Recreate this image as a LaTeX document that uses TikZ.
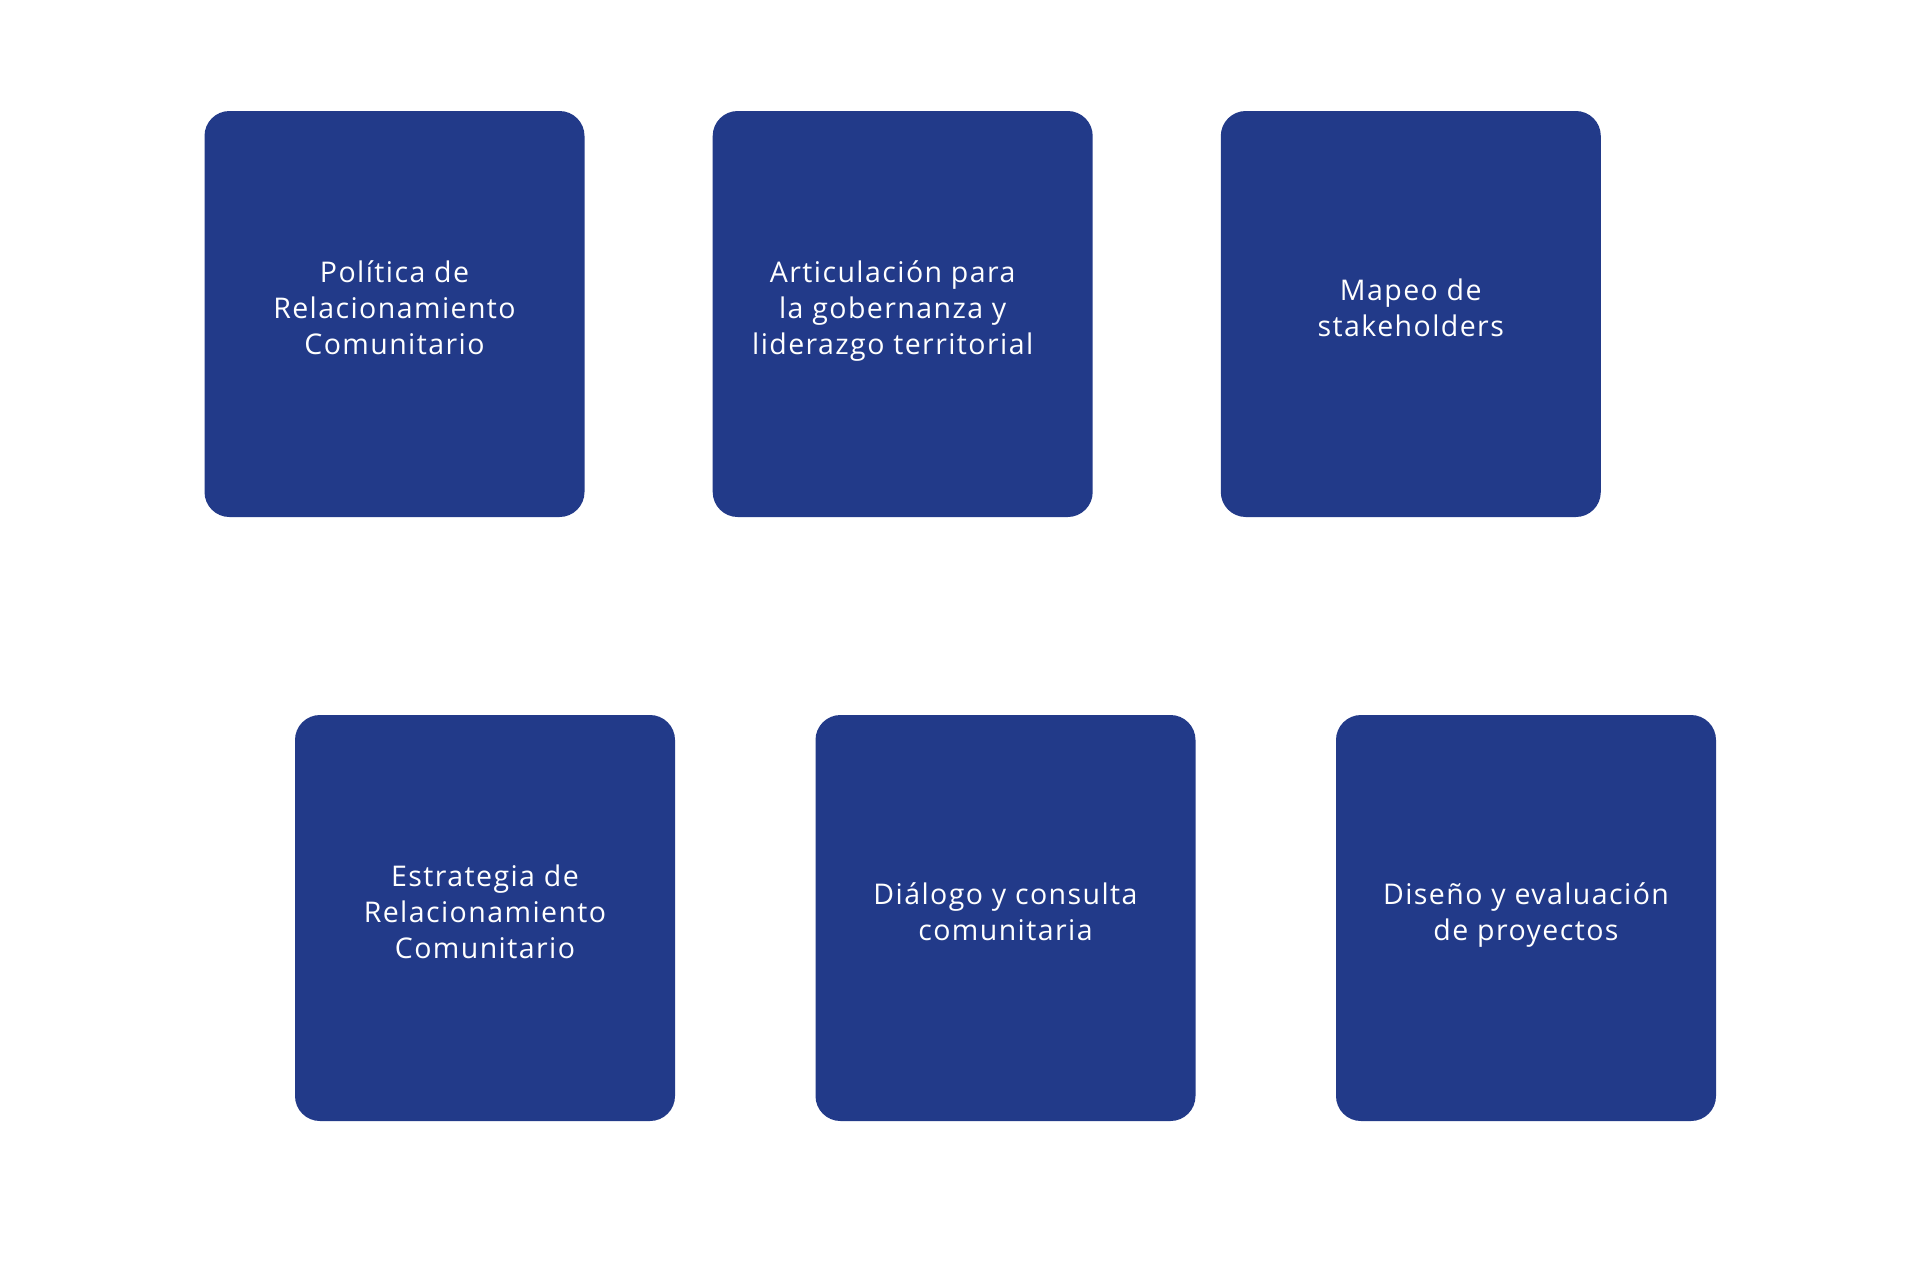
\documentclass[tikz,border=0pt]{standalone}
\usepackage{fontspec}
\setmainfont{Open Sans}[LetterSpace=5]
\definecolor{boxblue}{RGB}{34,58,137}
\begin{document}
\begin{tikzpicture}[x=1pt,y=-1pt,
  cardbox/.style={draw=none,fill=boxblue,rounded corners=25pt,minimum width=380pt,minimum height=406pt,inner sep=0pt},
  cardtext/.style={text=white,align=center,font=\fontsize{28.5}{36}\selectfont,inner sep=0pt,text height=30pt,text depth=8pt}]
\useasboundingbox[fill=white] (0,0) rectangle (1920,1269);
\node[cardbox] (b1) at (394.5,314) {};
\node[cardbox] (b2) at (902.7,314) {};
\node[cardbox] (b3) at (1410.8,314) {};
\node[cardbox] (b4) at (485,918) {};
\node[cardbox] (b5) at (1005.5,918) {};
\node[cardbox] (b6) at (1526,918) {};
\node[cardtext] (t1) at ([yshift=-29.5pt]b1.center) {Política de\\Relacionamiento\\Comunitario};
\node[cardtext] (t2) at ([xshift=-10pt,yshift=-29.5pt]b2.center) {Articulación para\\la gobernanza y\\liderazgo territorial};
\node[cardtext] (t3) at ([yshift=-11pt]b3.center) {Mapeo de\\stakeholders};
\node[cardtext] (t4) at ([yshift=-29.5pt]b4.center) {Estrategia de\\Relacionamiento\\Comunitario};
\node[cardtext] (t5) at ([yshift=-11pt]b5.center) {Diálogo y consulta\\comunitaria};
\node[cardtext] (t6) at ([yshift=-11pt]b6.center) {Diseño y evaluación\\de proyectos};
\end{tikzpicture}
\end{document}
